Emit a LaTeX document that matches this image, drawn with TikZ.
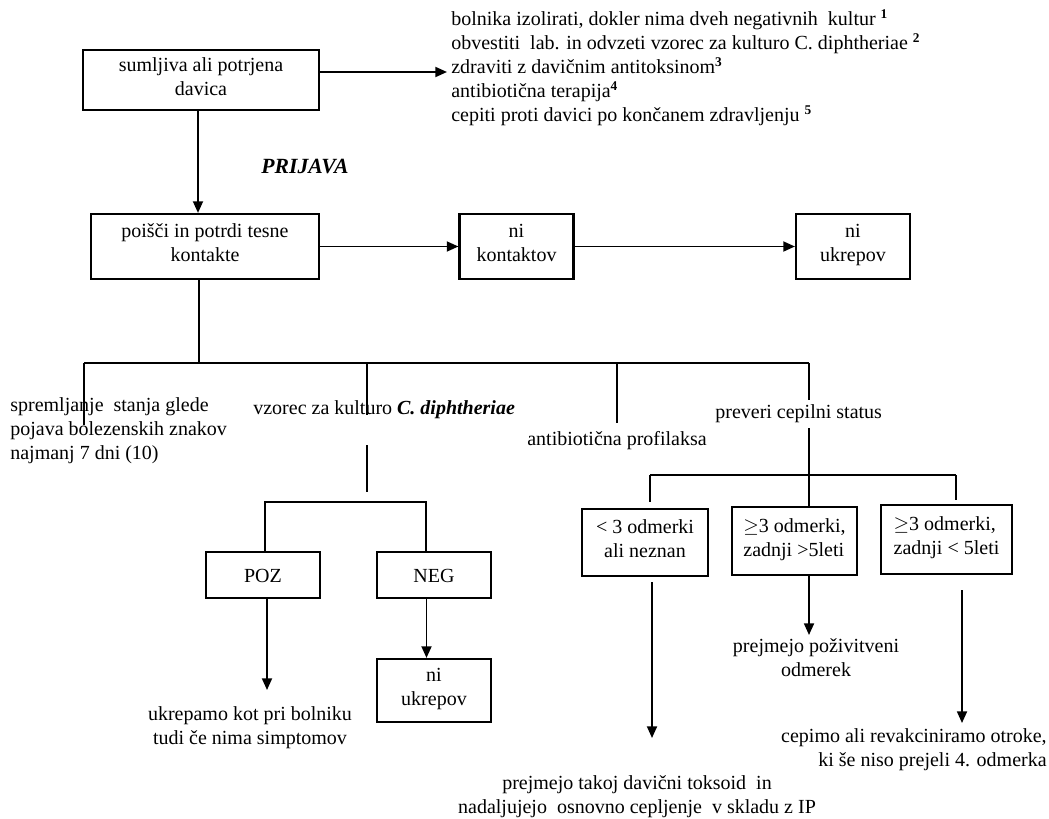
\documentclass[tikz,border=0pt]{standalone}
\usepackage{fontspec}
\setmainfont{Liberation Serif}
\usepackage{tikz}
\usetikzlibrary{arrows.meta, positioning, calc}

\begin{document}
\begin{tikzpicture}[%
  x=0.6pt, y=-0.6pt,
  every node/.style={align=center, font=\fontsize{12}{14.4}\selectfont, inner sep=0pt},
  box/.style={draw, line width=1.3pt, minimum width=68.4pt, minimum height=39pt,
    execute at begin node=\rule{0pt}{13pt}, execute at end node=\strut},
  lbox/.style={box, align=left, minimum width=75pt, minimum height=40.8pt},
  arr/.style={-{Triangle[length=7pt, width=6pt]}, line width=1.1pt},
  ln/.style={line width=1pt}
]
\useasboundingbox (0,0) rectangle (1049,818);

% 1. Suspected case and measures
\node[box, minimum width=141.6pt, minimum height=36pt] (sum) at (201,80) {sumljiva ali potrjena\\davica};
\node[anchor=west, align=left] (ukrepi) at (451,68) {bolnika izolirati, dokler nima dveh negativnih\ \ kultur \textsuperscript{\textbf{1}}\\
  obvestiti\ \ lab. in odvzeti vzorec za kulturo C. diphtheriae \textsuperscript{\textbf{2}}\\
  zdraviti z davičnim antitoksinom\textsuperscript{\textbf{3}}\\
  antibiotična terapija\textsuperscript{\textbf{4}}\\
  cepiti proti davici po končanem zdravljenju \textsuperscript{\textbf{5}}};
\coordinate (ukrepitip) at (447,72);
\draw[arr] (sum.east |- ukrepitip) -- (ukrepitip);

% 2. Close contacts
\node[box, minimum width=136.8pt] (poisci) at (205,246.5) {poišči in potrdi tesne\\kontakte};
\coordinate (sumdown) at ([xshift=-1.8pt]sum.south);
\draw[arr] (sumdown) -- (sumdown |- poisci.north);
\node[font=\fontsize{13}{15}\selectfont\bfseries\itshape] (prijava) at (305,167) {PRIJAVA};
\node[box] (nikont) at (516.5,246.5) {ni\\kontaktov};
\node[box] (niukr) at (853,246.5) {ni\\ukrepov};
\draw[arr] (poisci.east) -- (nikont.west);
\draw[arr] (nikont.east) -- (niukr.west);

% 3. Measures for contacts
\coordinate (busL) at (84,363);
\coordinate (busV) at (367,363);
\coordinate (busP) at (617,363);
\coordinate (busR) at (809,363);
\coordinate (poiscidown) at ([xshift=-3.6pt]poisci.south);
\draw[ln] (poiscidown) -- (poiscidown |- busL);
\draw[ln] (busL) -- (busR);
\draw[ln] (busL) -- ++(0,62);
\draw[ln] (busV) -- ++(0,52);
\draw[ln] (busP) -- ++(0,60);
\draw[ln] (busR) -- ++(0,37);
\node[anchor=west, align=left] (sprem) at (10,431) {spremljanje\ \ stanja glede\\pojava bolezenskih znakov\\najmanj 7 dni (10)};
\node[anchor=west] (vzorec) at (253,410) {vzorec za kulturo \textbf{\textit{C. diphtheriae}}};
\node[anchor=west] (profil) at (527,441) {antibiotična profilaksa};
\node[anchor=west] (cepst) at (715,414) {preveri cepilni status};

% 4. Culture result
\coordinate (vzV) at (367,445);
\draw[ln] (vzV) -- ++(0,47);
\coordinate (kulL) at (265,502);
\coordinate (kulR) at (426,502);
\node[box, minimum height=27.6pt] (poz) at (263,575) {POZ};
\node[box, minimum height=27.6pt] (neg) at (434,575) {NEG};
\draw[ln] (kulL |- poz.north) -- (kulL) -- (kulR) -- (kulR |- neg.north);
\node[box, minimum height=37.8pt] (niukr2) at (434,690.5) {ni\\ukrepov};
\coordinate (negdown) at ([xshift=-4.5pt]neg.south);
\draw[arr] (negdown) -- (negdown |- niukr2.north);
\coordinate (poztip) at (267,690);
\draw[arr] (poztip |- poz.south) -- (poztip);
\node (ukrepamo) at (250,728) {ukrepamo kot pri bolniku\\tudi če nima simptomov};

% 5. Vaccination status
\node[box, minimum width=75.6pt, minimum height=40.2pt] (odma) at (645,542.5) {< 3 odmerki\\ali neznan};
\node[lbox] (odmb) at (794.5,541) {$\geq$3 odmerki,\\zadnji >5leti};
\node[lbox, minimum width=78.6pt, minimum height=41.4pt] (odmc) at (946.5,539.5) {$\geq$3 odmerki,\\zadnji < 5leti};
\coordinate (cepV) at (809,428);
\coordinate (cepL) at (650,475);
\coordinate (cepR) at (956,475);
\draw[ln] (cepV) -- (cepV |- odmb.north);
\draw[ln] (cepL) -- (cepR);
\draw[ln] (cepL) -- ++(0,27);
\draw[ln] (cepR) -- ++(0,25);

\coordinate (atop) at (652,582);
\coordinate (atip) at (652,738);
\draw[arr] (atop) -- (atip);
\coordinate (btip) at (809,635);
\draw[arr] (btip |- odmb.south) -- (btip);
\coordinate (ctop) at (962,590);
\coordinate (ctip) at (962,723);
\draw[arr] (ctop) -- (ctip);

\node (poziv) at (816,658) {prejmejo poživitveni\\odmerek};
\node[anchor=east, align=right] (revak) at (1047,750) {cepimo ali revakciniramo otroke,\\ki še niso prejeli 4. odmerka};
\node (toksoid) at (637,797) {prejmejo takoj davični toksoid\ \ in\\nadaljujejo\ \ osnovno cepljenje\ \ v skladu z IP};

\end{tikzpicture}
\end{document}
